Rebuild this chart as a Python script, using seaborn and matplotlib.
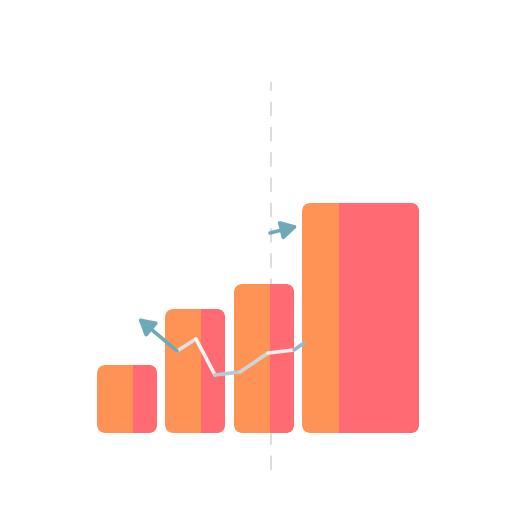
import numpy as np
import pandas as pd
import matplotlib
matplotlib.use("Agg")
import matplotlib.pyplot as plt
import seaborn as sns
from matplotlib.patches import FancyBboxPatch, Rectangle
from matplotlib.collections import LineCollection

# data (icon units)
categories = ["Q1", "Q2", "Q3", "Q4"]
values = [68, 124, 149, 230]
orange_share = [36, 36, 36, 37]

# trend line (x, y) in icon units
trend_x = [138, 177, 196, 215, 240, 268, 294, 304]
trend_y = [194, 161, 173, 137, 140, 159, 162, 169]
jump_x = [270, 298]
jump_y = [279, 286]

# layout
bar_left = [97, 165, 234, 302]
bar_width = [60, 60, 60, 117]
base = 79
orange = "#FE9355"
pink = "#FF6A73"
teal = "#6FA9B8"

sns.set_theme(style="white")
fig = plt.figure(figsize=(5.12, 5.12), dpi=100)
ax = fig.add_axes([0, 0, 1, 1])

df = pd.DataFrame({"cat": categories, "val": values})
sns.barplot(data=df, x="cat", y="val", color=orange, ax=ax)

ax.set_xlim(0, 512)
ax.set_ylim(0, 512)
ax.axis("off")

for i, p in enumerate(list(ax.patches)):
    h = p.get_height()
    p.remove()
    x0, w = bar_left[i], bar_width[i]
    box = FancyBboxPatch((x0, base), w, h,
                         boxstyle="round,pad=0,rounding_size=9",
                         fc=orange, ec="none", zorder=2)
    ax.add_patch(box)
    right = Rectangle((x0 + orange_share[i], base), w - orange_share[i], h,
                      fc=pink, ec="none", zorder=3)
    ax.add_patch(right)
    right.set_clip_path(box)

# dashed divider
ax.plot([271, 271], [42, 430], color="#DADADA", lw=1.3,
        dashes=(8, 6), zorder=1)

# trend line with fading colour
pts = np.column_stack([trend_x, trend_y])
segs = np.stack([pts[:-1], pts[1:]], axis=1)
cols = ["#8DB6C0", "#D8E2E3", "#F4F4F2", "#B4CBD0", "#C9D7D9",
        "#EFEFEC", "#98BAC3"]
lc = LineCollection(segs[1:], colors=cols[1:], linewidths=2.6, zorder=4,
                    capstyle="round", joinstyle="round")
ax.add_collection(lc)
ax.annotate("", xy=(trend_x[0], trend_y[0]), xytext=(trend_x[1], trend_y[1]),
            arrowprops=dict(arrowstyle="-|>,head_length=0.8,head_width=0.45",
                            color=teal, lw=2.6, shrinkA=0, shrinkB=0), zorder=5)
ax.annotate("", xy=(jump_x[1], jump_y[1]), xytext=(jump_x[0], jump_y[0]),
            arrowprops=dict(arrowstyle="-|>,head_length=0.8,head_width=0.45",
                            color=teal, lw=2.6, shrinkA=0, shrinkB=0), zorder=5)

fig.savefig("out.png", dpi=100, facecolor="white")
